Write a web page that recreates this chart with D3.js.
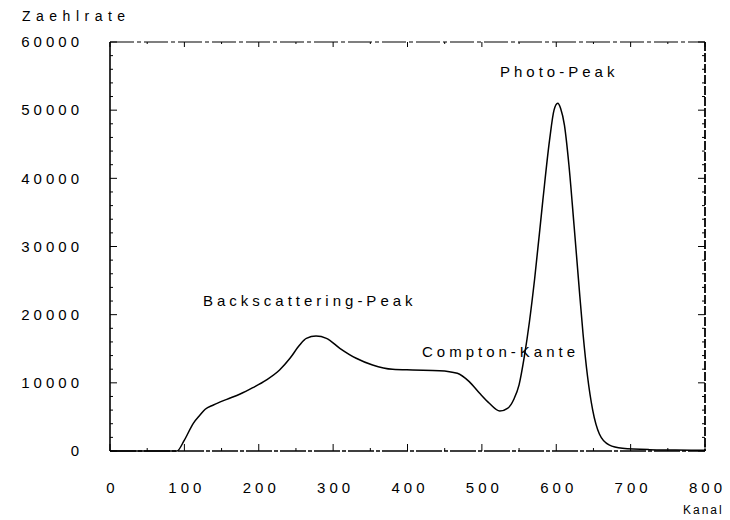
<!DOCTYPE html>
<html>
<head>
<meta charset="utf-8">
<script src="https://cdn.jsdelivr.net/npm/d3@7/dist/d3.min.js"></script>
<style>
  html, body { margin: 0; padding: 0; background: #fff; }
  svg { display: block; }
  text { font-family: "Liberation Sans", "DejaVu Sans", sans-serif; fill: #000; }
</style>
</head>
<body>
<script>
// ---- data ----
const channels = [0, 90, 100, 112, 121, 128, 139, 157, 175, 192, 210, 228, 242, 255, 264, 277, 291, 309, 331, 353, 380, 407, 443, 467, 483, 497, 510, 524, 535, 543, 550, 557, 564, 571, 582, 591, 597, 602, 606, 611, 617, 624, 630, 636, 642, 649, 658, 671, 689, 725, 760, 800];
const counts   = [0, 0, 1600, 4060, 5280, 6120, 6750, 7580, 8360, 9290, 10400, 11880, 13600, 15550, 16530, 16870, 16530, 15070, 13600, 12620, 11980, 11880, 11780, 11400, 10170, 8460, 7000, 5870, 6300, 7600, 9700, 13800, 19000, 25300, 36800, 45600, 50000, 51000, 50200, 47800, 42000, 33000, 25000, 17200, 11000, 6000, 2500, 900, 400, 200, 150, 100];
const xTicks = [0, 100, 200, 300, 400, 500, 600, 700, 800];
const yTicks = [0, 10000, 20000, 30000, 40000, 50000, 60000];
const xMinor = d3.range(0, 801, 50);
const yMinor = d3.range(0, 60001, 2000);
const yTitle = "Zaehlrate";
const xTitle = "Kanal";
const annotations = [
  { text: "Photo-Peak", x: 500, y: 77 },
  { text: "Backscattering-Peak", x: 203, y: 306 },
  { text: "Compton-Kante", x: 422, y: 357 }
];

// ---- layout ----
const W = 730, H = 520;
const L = 110, R = 705, T = 42, B = 451;
const LS = 4;

const svg = d3.select("body").append("svg").attr("width", W).attr("height", H);

const x = d3.scaleLinear().domain([0, 800]).range([L, R]);
const y = d3.scaleLinear().domain([0, 60000]).range([B, T]);

// minor ticks
const g = svg.append("g").attr("stroke", "#000").attr("stroke-width", 1);
g.selectAll("line.ml").data(yMinor).join("line")
  .attr("x1", L).attr("x2", d => L + (d % 10000 === 0 ? 7 : 3))
  .attr("y1", d => y(d)).attr("y2", d => y(d));
g.selectAll("line.mr").data(yMinor).join("line")
  .attr("x1", R).attr("x2", d => R - (d % 10000 === 0 ? 7 : 3))
  .attr("y1", d => y(d)).attr("y2", d => y(d));
g.selectAll("line.mb").data(xMinor).join("line")
  .attr("x1", d => x(d)).attr("x2", d => x(d))
  .attr("y1", B).attr("y2", d => B - (d % 100 === 0 ? 7 : 3));
g.selectAll("line.mt").data(xMinor).join("line")
  .attr("x1", d => x(d)).attr("x2", d => x(d))
  .attr("y1", T).attr("y2", d => T + (d % 100 === 0 ? 5 : 2));

// frame
const frame = svg.append("g").attr("stroke", "#000").attr("fill", "none");
frame.append("line").attr("x1", L).attr("x2", L).attr("y1", T).attr("y2", B).attr("stroke-width", 1.6);
frame.append("line").attr("x1", R).attr("x2", R).attr("y1", T).attr("y2", B).attr("stroke-width", 1.8).attr("stroke-dasharray", "9,2");
frame.append("line").attr("x1", L).attr("x2", R).attr("y1", T).attr("y2", T).attr("stroke-width", 1.2).attr("stroke-dasharray", "24,3,4,3");
frame.append("line").attr("x1", L).attr("x2", R).attr("y1", B).attr("y2", B).attr("stroke-width", 1.4).attr("stroke-dasharray", "26,2,4,2");

// axes (labels only)
const yAxis = svg.append("g").attr("transform", `translate(${L},0)`)
  .call(d3.axisLeft(y).tickValues(yTicks).tickSize(0).tickPadding(31 - LS).tickFormat(d3.format("d")));
const xAxis = svg.append("g").attr("transform", `translate(0,${B})`)
  .call(d3.axisBottom(x).tickValues(xTicks).tickSize(0).tickPadding(31).tickFormat(d3.format("d")));
[yAxis, xAxis].forEach(a => {
  a.select(".domain").remove();
  a.selectAll("text").attr("font-size", 15).attr("letter-spacing", LS)
    .attr("font-family", "Liberation Sans, DejaVu Sans, sans-serif").attr("fill", "#000");
});
xAxis.selectAll("text").attr("dx", LS / 2);

// curve
const line = d3.line().x((d, i) => x(channels[i])).y((d, i) => y(counts[i])).curve(d3.curveMonotoneX);
svg.append("path").datum(counts).attr("d", line)
  .attr("fill", "none").attr("stroke", "#000").attr("stroke-width", 1.5);

// texts
svg.append("text").attr("x", 22).attr("y", 21).attr("font-size", 14).attr("letter-spacing", 5.5).text(yTitle);
svg.append("text").attr("x", 683).attr("y", 514).attr("font-size", 12).attr("letter-spacing", 2).text(xTitle);
svg.selectAll("text.ann").data(annotations).join("text").attr("class", "ann")
  .attr("x", d => d.x).attr("y", d => d.y).attr("font-size", 15).attr("letter-spacing", LS).text(d => d.text);
</script>
</body>
</html>
